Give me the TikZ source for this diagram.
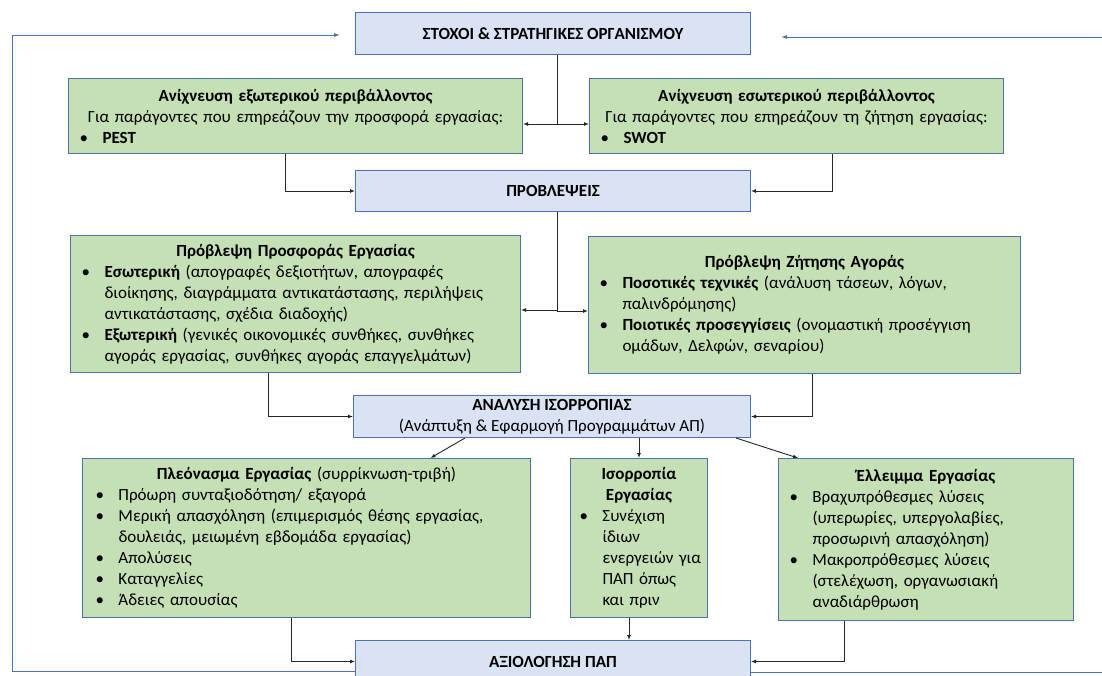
\documentclass[tikz,border=0pt]{standalone}
\usepackage{fontspec}
\setmainfont{Carlito}
\usetikzlibrary{arrows.meta}
\definecolor{bfill}{HTML}{DAE3F3}
\definecolor{bline}{HTML}{4A72B8}
\definecolor{gfill}{HTML}{C5E0B4}
\definecolor{gline}{HTML}{4D74A8}
\newcommand{\itm}{\makebox[23pt][l]{\textbullet}}
\newcommand{\cnt}{\hspace*{23pt}}
\newcommand{\ttl}[1]{\makebox[\linewidth]{#1}}
\tikzset{
  bbox/.style={draw=bline, fill=bfill, line width=1pt, anchor=north west, align=center, inner sep=0pt},
  gbox/.style={draw=gline, fill=gfill, line width=1pt, anchor=north west, align=left, inner xsep=11pt, inner ysep=0pt},
  conn/.style={draw=black!85, line width=0.9pt, -{Latex[length=5pt,width=4pt]}},
  fback/.style={draw=bline, line width=1pt, -{Latex[length=6pt,width=4pt]}}
}
\begin{document}
\begin{tikzpicture}[x=1pt,y=-1pt,font=\fontsize{17}{21}\selectfont]
\useasboundingbox (0,0) rectangle (1102,675);
\node[bbox, minimum width=395pt, minimum height=42pt] (goals) at (355,12) {\textbf{ΣΤΟΧΟΙ \& ΣΤΡΑΤΗΓΙΚΕΣ ΟΡΓΑΝΙΣΜΟΥ}};
\node[gbox, text width=432pt, minimum height=75pt] (extscan) at (68,78) {\ttl{\textbf{Ανίχνευση εξωτερικού περιβάλλοντος}}\\
\ttl{Για παράγοντες που επηρεάζουν την προσφορά εργασίας:}\\
\itm\textbf{PEST}};
\node[gbox, text width=392pt, minimum height=75pt] (intscan) at (589,78) {\ttl{\textbf{Ανίχνευση εσωτερικού περιβάλλοντος}}\\
\ttl{Για παράγοντες που επηρεάζουν τη ζήτηση εργασίας:}\\
\itm\textbf{SWOT}};
\node[bbox, minimum width=395pt, minimum height=41pt] (forecast) at (355,170) {\textbf{ΠΡΟΒΛΕΨΕΙΣ}};
\node[gbox, text width=428pt, minimum height=137pt] (supply) at (70,235) {\ttl{\textbf{Πρόβλεψη Προσφοράς Εργασίας}}\\
\itm\textbf{Εσωτερική} (απογραφές δεξιοτήτων, απογραφές\\
\cnt διοίκησης, διαγράμματα αντικατάστασης, περιλήψεις\\
\cnt αντικατάστασης, σχέδια διαδοχής)\\
\itm\textbf{Εξωτερική} (γενικές οικονομικές συνθήκες, συνθήκες\\
\cnt αγοράς εργασίας, συνθήκες αγοράς επαγγελμάτων)};
\node[gbox, text width=410pt, minimum height=137pt] (demand) at (588,236) {\ttl{\textbf{Πρόβλεψη Ζήτησης Αγοράς}}\\
\itm\textbf{Ποσοτικές τεχνικές} (ανάλυση τάσεων, λόγων,\\
\cnt παλινδρόμησης)\\
\itm\textbf{Ποιοτικές προσεγγίσεις} (ονομαστική προσέγγιση\\
\cnt ομάδων, Δελφών, σεναρίου)};
\node[bbox, minimum width=397pt, minimum height=42pt] (balance) at (353,395) {\textbf{ΑΝΑΛΥΣΗ ΙΣΟΡΡΟΠΙΑΣ}\\(Ανάπτυξη \& Εφαρμογή Προγραμμάτων ΑΠ)};
\node[gbox, inner xsep=13pt, text width=422pt, minimum height=159pt] (surplus) at (82,458) {\ttl{\textbf{Πλεόνασμα Εργασίας} (συρρίκνωση-τριβή)}\\
\itm Πρόωρη συνταξιοδότηση/ εξαγορά\\
\itm Μερική απασχόληση (επιμερισμός θέσης εργασίας,\\
\cnt δουλειάς, μειωμένη εβδομάδα εργασίας)\\
\itm Απολύσεις\\
\itm Καταγγελίες\\
\itm Άδειες απουσίας};
\node[gbox, inner xsep=9pt, text width=119pt, minimum height=159pt] (equil) at (570,458) {\ttl{\textbf{Ισορροπία}}\\
\ttl{\textbf{Εργασίας}}\\
\itm Συνέχιση\\
\cnt ίδιων\\
\cnt\mbox{ενεργειών για}\\
\cnt ΠΑΠ όπως\\
\cnt και πριν};
\node[gbox, text width=273pt, minimum height=162pt] (deficit) at (778,458) {\ttl{\textbf{Έλλειμμα Εργασίας}}\\
\itm Βραχυπρόθεσμες λύσεις\\
\cnt (υπερωρίες, υπεργολαβίες,\\
\cnt προσωρινή απασχόληση)\\
\itm Μακροπρόθεσμες λύσεις\\
\cnt (στελέχωση, οργανωσιακή\\
\cnt αναδιάρθρωση};
\node[bbox, minimum width=395pt, minimum height=42pt] (review) at (355,640) {\textbf{ΑΞΙΟΛΟΓΗΣΗ ΠΑΠ}};
\coordinate (lft) at (12,35);
\coordinate (rgt) at (1112,37);
\draw[conn] ([xshift=4pt]goals.south) |- ([yshift=-8pt]extscan.east);
\draw[conn] ([xshift=4pt]goals.south) |- ([yshift=-8pt]intscan.west);
\draw[conn] ([xshift=-10pt]extscan.south) |- (forecast.west);
\draw[conn] ([xshift=36pt]intscan.south) |- (forecast.east);
\draw[conn] ([xshift=4pt]forecast.south) |- ([yshift=-6pt]supply.east);
\draw[conn] ([xshift=4pt]forecast.south) |- ([yshift=-6pt]demand.west);
\draw[conn] ([xshift=-27pt]supply.south) |- (balance.west);
\draw[conn] ([xshift=8pt]demand.south) |- (balance.east);
\draw[conn] ([xshift=-87pt]balance.south) -- ([xshift=124pt]surplus.north);
\draw[conn] (equil.north |- balance.south) -- (equil.north);
\draw[conn] ([xshift=-15pt]balance.south east) -- ([xshift=-128pt]deficit.north);
\draw[conn] ([xshift=-15pt]surplus.south) |- (review.west);
\draw[conn] ([xshift=-10pt]equil.south) -- ([xshift=-10pt]equil.south |- review.north);
\draw[conn] ([xshift=-82pt]deficit.south) |- (review.east);
\draw[fback, shorten >=15pt] ([yshift=-10pt]review.west) -| (lft) -- (lft -| goals.west);
\draw[fback, shorten >=30pt] ([yshift=-11pt]review.east) -| (rgt) -- (rgt -| goals.east);
\end{tikzpicture}
\end{document}
